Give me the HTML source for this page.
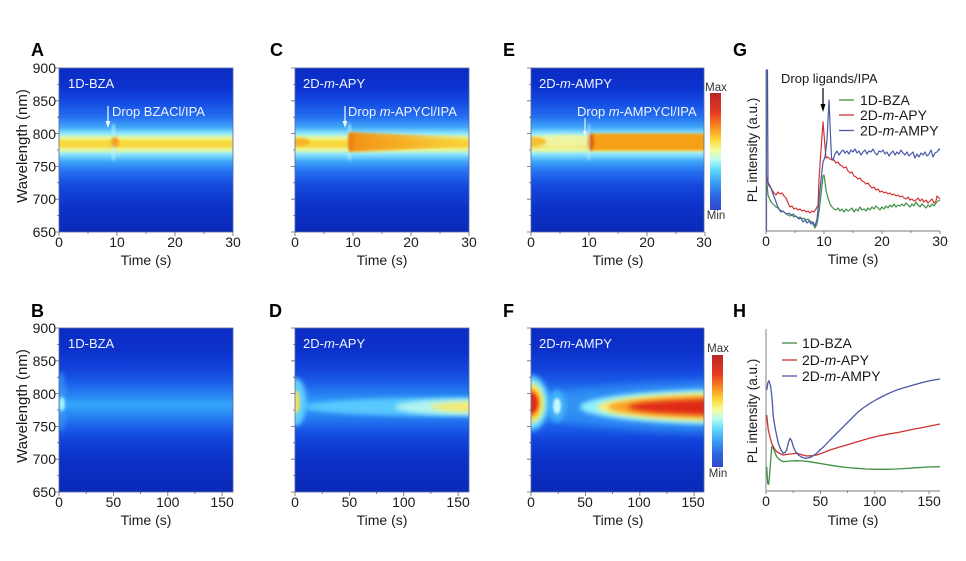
<!DOCTYPE html>
<html><head><meta charset="utf-8"><style>
html,body{margin:0;padding:0;background:#fff;}
svg{display:block;}
text{font-family:"Liberation Sans",Arial,sans-serif;}
</style></head><body>
<svg width="966" height="561" viewBox="0 0 966 561" xmlns="http://www.w3.org/2000/svg">
<defs>
<linearGradient id="gTop" x1="0" y1="0" x2="0" y2="1">
<stop offset="0" stop-color="#0b2cc4"/>
<stop offset="0.12" stop-color="#0c32cf"/>
<stop offset="0.2" stop-color="#1248e0"/>
<stop offset="0.3" stop-color="#2570f0"/>
<stop offset="0.36" stop-color="#3fa6f8"/>
<stop offset="0.40" stop-color="#8ee8ff"/>
<stop offset="0.425" stop-color="#e6f8a0"/>
<stop offset="0.45" stop-color="#f8dc3c"/>
<stop offset="0.475" stop-color="#f8d840"/>
<stop offset="0.5" stop-color="#e6f8a0"/>
<stop offset="0.525" stop-color="#8ee8ff"/>
<stop offset="0.57" stop-color="#3fa6f8"/>
<stop offset="0.63" stop-color="#2570f0"/>
<stop offset="0.72" stop-color="#1448dc"/>
<stop offset="0.85" stop-color="#0c32c8"/>
<stop offset="1" stop-color="#0a2ab8"/>
</linearGradient>
<linearGradient id="gBot" x1="0" y1="0" x2="0" y2="1">
<stop offset="0" stop-color="#0b2cc4"/>
<stop offset="0.15" stop-color="#0c32cc"/>
<stop offset="0.25" stop-color="#1244dc"/>
<stop offset="0.33" stop-color="#1a5ce8"/>
<stop offset="0.40" stop-color="#2680f2"/>
<stop offset="0.47" stop-color="#34a6f8"/>
<stop offset="0.54" stop-color="#2680f2"/>
<stop offset="0.61" stop-color="#1a5ce8"/>
<stop offset="0.68" stop-color="#1244dc"/>
<stop offset="0.8" stop-color="#0c32c8"/>
<stop offset="1" stop-color="#0a2ab8"/>
</linearGradient>
<linearGradient id="cbar" x1="0" y1="0" x2="0" y2="1">
<stop offset="0" stop-color="#b82828"/>
<stop offset="0.17" stop-color="#e83a22"/>
<stop offset="0.29" stop-color="#f88a20"/>
<stop offset="0.4" stop-color="#fcd838"/>
<stop offset="0.49" stop-color="#f4fca0"/>
<stop offset="0.57" stop-color="#b8fcf0"/>
<stop offset="0.66" stop-color="#60d8fc"/>
<stop offset="0.77" stop-color="#3a9cf4"/>
<stop offset="0.89" stop-color="#2a62e0"/>
<stop offset="1" stop-color="#3448c8"/>
</linearGradient>
<linearGradient id="orC" x1="0" y1="0" x2="1" y2="0">
<stop offset="0" stop-color="#f29014" stop-opacity="1"/>
<stop offset="0.5" stop-color="#f6a81c" stop-opacity="0.8"/>
<stop offset="1" stop-color="#f8c830" stop-opacity="0.4"/>
</linearGradient>
<filter id="b1" x="-50%" y="-50%" width="200%" height="200%"><feGaussianBlur stdDeviation="1.3"/></filter>
<filter id="b2" x="-50%" y="-50%" width="200%" height="200%"><feGaussianBlur stdDeviation="2.5"/></filter>
<filter id="b4" x="-50%" y="-50%" width="200%" height="200%"><feGaussianBlur stdDeviation="4"/></filter>
<clipPath id="cA"><rect x="59" y="68" width="174" height="164"/></clipPath>
<clipPath id="cC"><rect x="295" y="68" width="174" height="164"/></clipPath>
<clipPath id="cE"><rect x="531" y="68" width="173" height="164"/></clipPath>
<clipPath id="cB"><rect x="59" y="328" width="174" height="164"/></clipPath>
<clipPath id="cD"><rect x="295" y="328" width="174" height="164"/></clipPath>
<clipPath id="cF"><rect x="531" y="328" width="173" height="164"/></clipPath>
<path id="tkT" d="M59,68h-4M59,100.8h-4M59,133.6h-4M59,166.4h-4M59,199.2h-4M59,232h-4M59,84.4h-2M59,117.2h-2M59,150h-2M59,182.8h-2M59,215.6h-2M59,232v4M117,232v4M175,232v4M233,232v4M88,232v2M146,232v2M204,232v2" stroke="#666" stroke-width="0.8" fill="none"/>
<path id="tkB" d="M59,328h-4M59,360.8h-4M59,393.6h-4M59,426.4h-4M59,459.2h-4M59,492h-4M59,344.4h-2M59,377.2h-2M59,410h-2M59,442.8h-2M59,475.6h-2M59,492v4M113.4,492v4M167.8,492v4M222.1,492v4M86.2,492v2M140.6,492v2M194.9,492v2" stroke="#666" stroke-width="0.8" fill="none"/>
</defs>

<!-- Panel letters -->
<g font-weight="bold" font-size="18" fill="#000">
<text x="31" y="56">A</text>
<text x="270" y="56">C</text>
<text x="503" y="56">E</text>
<text x="733" y="56">G</text>
<text x="31" y="317">B</text>
<text x="269" y="317">D</text>
<text x="503" y="317">F</text>
<text x="733" y="317">H</text>
</g>

<!-- ===== Panel A ===== -->
<g clip-path="url(#cA)">
<rect x="59" y="68" width="174" height="164" fill="url(#gTop)"/>
<rect x="112" y="124" width="3" height="36" fill="#b0f4ff" opacity="0.7" filter="url(#b1)"/>
<ellipse cx="115" cy="142" rx="4" ry="5" fill="#f5a020" filter="url(#b1)"/>
</g>
<rect x="59" y="68" width="174" height="164" fill="none" stroke="#5a6a9a" stroke-width="0.8"/>
<use href="#tkT"/>
<text x="68" y="88" font-size="13" fill="#eef4ff">1D-BZA</text>
<line x1="108" y1="106" x2="108" y2="122" stroke="#eef4ff" stroke-width="1.3"/>
<polygon points="105.5,121 110.5,121 108,128" fill="#eef4ff"/>
<text x="112" y="116" font-size="13" fill="#eef4ff">Drop BZACl/IPA</text>

<!-- ===== Panel C ===== -->
<g clip-path="url(#cC)">
<rect x="295" y="68" width="174" height="164" fill="url(#gTop)"/>
<ellipse cx="298" cy="142" rx="12" ry="4" fill="#f5b428" filter="url(#b1)"/>
<rect x="348" y="124" width="3" height="36" fill="#b0f4ff" opacity="0.7" filter="url(#b1)"/>
<path d="M349,132 L469,137.5 L469,146.5 L349,152 Z" fill="url(#orC)" filter="url(#b1)"/>
<ellipse cx="351" cy="142" rx="3" ry="9" fill="#ee8410" filter="url(#b1)"/>
</g>
<rect x="295" y="68" width="174" height="164" fill="none" stroke="#5a6a9a" stroke-width="0.8"/>
<use href="#tkT" transform="translate(236,0)"/>
<text x="303" y="88" font-size="13" fill="#eef4ff">2D-<tspan font-style="italic">m</tspan>-APY</text>
<line x1="345" y1="106" x2="345" y2="122" stroke="#eef4ff" stroke-width="1.3"/>
<polygon points="342.5,121 347.5,121 345,128" fill="#eef4ff"/>
<text x="348" y="116" font-size="13" fill="#eef4ff">Drop <tspan font-style="italic">m</tspan>-APYCl/IPA</text>

<!-- ===== Panel E ===== -->
<g clip-path="url(#cE)">
<rect x="531" y="68" width="173" height="164" fill="url(#gTop)"/>
<ellipse cx="566" cy="142" rx="30" ry="7" fill="#eef8b0" opacity="0.85" filter="url(#b2)"/>
<ellipse cx="533" cy="141.5" rx="13" ry="4.5" fill="#f5c030" filter="url(#b1)"/>
<rect x="591" y="133.5" width="120" height="17" fill="#f6a014" filter="url(#b1)"/>
<ellipse cx="591" cy="142" rx="3" ry="9" fill="#e06010" filter="url(#b1)"/>
<rect x="588" y="124" width="2" height="36" fill="#c0f8ff" opacity="0.6" filter="url(#b1)"/>
</g>
<rect x="531" y="68" width="173" height="164" fill="none" stroke="#5a6a9a" stroke-width="0.8"/>
<use href="#tkT" transform="translate(472,0)"/>
<text x="539" y="88" font-size="13" fill="#eef4ff">2D-<tspan font-style="italic">m</tspan>-AMPY</text>
<line x1="585" y1="118" x2="585" y2="132" stroke="#eef4ff" stroke-width="1.2"/>
<polygon points="583,131 587,131 585,137" fill="#eef4ff"/>
<text x="577" y="116" font-size="13" fill="#eef4ff">Drop <tspan font-style="italic">m</tspan>-AMPYCl/IPA</text>
<!-- colorbar E -->
<rect x="710" y="93" width="11" height="117" fill="url(#cbar)"/>
<text x="716" y="91" font-size="11.5" fill="#333" text-anchor="middle">Max</text>
<text x="716" y="219" font-size="11.5" fill="#333" text-anchor="middle">Min</text>

<!-- ===== Panel B ===== -->
<g clip-path="url(#cB)">
<rect x="59" y="328" width="174" height="164" fill="url(#gBot)"/>
<ellipse cx="61" cy="402" rx="5" ry="30" fill="#3a9cf8" opacity="0.7" filter="url(#b2)"/>
<ellipse cx="62" cy="404" rx="3" ry="7" fill="#a0f4ff" filter="url(#b1)"/>
</g>
<rect x="59" y="328" width="174" height="164" fill="none" stroke="#5a6a9a" stroke-width="0.8"/>
<use href="#tkB"/>
<text x="68" y="348" font-size="13" fill="#eef4ff">1D-BZA</text>

<!-- ===== Panel D ===== -->
<g clip-path="url(#cD)">
<rect x="295" y="328" width="174" height="164" fill="url(#gBot)"/>
<ellipse cx="440" cy="407" rx="135" ry="9" fill="#60d0ff" opacity="0.85" filter="url(#b2)"/>
<ellipse cx="465" cy="407" rx="70" ry="8" fill="#b0f4f0" filter="url(#b2)"/>
<ellipse cx="475" cy="407" rx="45" ry="5" fill="#f4ec70" filter="url(#b2)"/>
<ellipse cx="296" cy="402" rx="10" ry="24" fill="#60d0ff" filter="url(#b2)"/>
<ellipse cx="295" cy="402" rx="5" ry="12" fill="#f0e060" filter="url(#b1)"/>
</g>
<rect x="295" y="328" width="174" height="164" fill="none" stroke="#5a6a9a" stroke-width="0.8"/>
<use href="#tkB" transform="translate(236,0)"/>
<text x="303" y="348" font-size="13" fill="#eef4ff">2D-<tspan font-style="italic">m</tspan>-APY</text>

<!-- ===== Panel F ===== -->
<g clip-path="url(#cF)">
<rect x="531" y="328" width="173" height="164" fill="url(#gBot)"/>
<ellipse cx="740" cy="407" rx="205" ry="26" fill="#3090f4" opacity="0.8" filter="url(#b4)"/>
<ellipse cx="740" cy="407" rx="160" ry="18" fill="#90f0ff" filter="url(#b2)"/>
<ellipse cx="740" cy="407" rx="143" ry="14.5" fill="#f8f080" filter="url(#b2)"/>
<ellipse cx="740" cy="407" rx="132" ry="11.5" fill="#f8a020" filter="url(#b2)"/>
<ellipse cx="740" cy="407" rx="112" ry="8" fill="#e02a18" filter="url(#b2)"/>
<ellipse cx="557" cy="406" rx="9" ry="16" fill="#40b0f8" filter="url(#b2)"/>
<ellipse cx="557" cy="406" rx="4" ry="8" fill="#c8f8ff" filter="url(#b1)"/>
<ellipse cx="531" cy="403" rx="18" ry="28" fill="#50c0fc" filter="url(#b2)"/>
<ellipse cx="531" cy="403" rx="15" ry="23" fill="#a0f4f8" filter="url(#b2)"/>
<ellipse cx="531" cy="403" rx="12" ry="19" fill="#fce040" filter="url(#b2)"/>
<ellipse cx="531" cy="403" rx="9" ry="14" fill="#f89020" filter="url(#b1)"/>
<ellipse cx="531" cy="403" rx="6.5" ry="10" fill="#e02c18" filter="url(#b1)"/>
</g>
<rect x="531" y="328" width="173" height="164" fill="none" stroke="#5a6a9a" stroke-width="0.8"/>
<use href="#tkB" transform="translate(472,0)"/>
<text x="539" y="348" font-size="13" fill="#eef4ff">2D-<tspan font-style="italic">m</tspan>-AMPY</text>
<!-- colorbar F -->
<rect x="712" y="355" width="11" height="112" fill="url(#cbar)"/>
<text x="718" y="352" font-size="11.5" fill="#333" text-anchor="middle">Max</text>
<text x="718" y="477" font-size="11.5" fill="#333" text-anchor="middle">Min</text>

<!-- heatmap axis labels -->
<g font-size="14" fill="#1a1a1a">
<g text-anchor="end">
<text x="56" y="73">900</text><text x="56" y="106">850</text><text x="56" y="139">800</text><text x="56" y="171.5">750</text><text x="56" y="204">700</text><text x="56" y="237">650</text>
<text x="56" y="333">900</text><text x="56" y="366">850</text><text x="56" y="399">800</text><text x="56" y="431.5">750</text><text x="56" y="464">700</text><text x="56" y="497">650</text>
</g>
<g text-anchor="middle">
<text x="59" y="247">0</text><text x="117" y="247">10</text><text x="175" y="247">20</text><text x="233" y="247">30</text>
<text x="295" y="247">0</text><text x="353" y="247">10</text><text x="411" y="247">20</text><text x="469" y="247">30</text>
<text x="531" y="247">0</text><text x="589" y="247">10</text><text x="647" y="247">20</text><text x="704" y="247">30</text>
<text x="146" y="265">Time (s)</text><text x="382" y="265">Time (s)</text><text x="618" y="265">Time (s)</text>
<text x="59" y="507">0</text><text x="113.4" y="507">50</text><text x="167.8" y="507">100</text><text x="222.1" y="507">150</text>
<text x="295" y="507">0</text><text x="349.4" y="507">50</text><text x="403.8" y="507">100</text><text x="458.1" y="507">150</text>
<text x="531" y="507">0</text><text x="585" y="507">50</text><text x="639" y="507">100</text><text x="693" y="507">150</text>
<text x="146" y="525">Time (s)</text><text x="382" y="525">Time (s)</text><text x="618" y="525">Time (s)</text>
<text font-size="15" transform="translate(27,146) rotate(-90)">Wavelength (nm)</text>
<text font-size="15" transform="translate(27,406) rotate(-90)">Wavelength (nm)</text>
</g>
</g>

<!-- ===== Panel G ===== -->
<g fill="none" stroke-width="1.2" stroke-linejoin="round">
<polyline stroke="#3f8f46" points="766.5,175 767,183 768,195 770,200 772,203 774,205 776,207 778,208 780,210 782,211 784,212 786,214 788,215 790,216 792,215 794,217 796,216 798,218 800,217 802,219 804,218 806,220 808,219 810,221 812,222 814,226 815,228 817,224 819,212 821,195 823,176 824,175 825,182 826,190 828,198 830,204 832,207 834,209 836,210 838,208 840,211 842,209 844,212 846,209 848,211 850,210 852,208 854,212 856,209 858,211 860,207 862,210 864,209 866,211 868,208 870,210 872,207 874,209 876,206 878,208 880,210 882,207 884,209 886,206 888,208 890,205 892,207 894,204 896,207 898,205 900,206 902,204 904,206 906,203 908,205 910,207 912,204 914,206 916,202 918,205 920,207 922,204 924,206 926,208 928,205 930,207 932,204 934,206 936,203 938,201 940,200"/>
<polyline stroke="#d03232" points="767,178 768,182 770,186 772,190 774,193 776,195 778,192 780,194 782,193 784,196 786,198 788,203 790,207 792,206 794,209 796,208 798,210 800,209 802,211 804,210 806,212 808,211 810,213 812,211 814,212 816,209 818,205 819,180 821,150 823,122 824.5,140 826,158 828,157 830,159 832,160 834,160 836,163 838,162 840,165 842,166 844,168 846,167 848,171 850,173 852,172 854,176 856,177 858,179 860,178 862,181 864,182 866,184 868,183 870,186 872,188 874,187 876,190 878,189 880,192 882,191 884,193 886,192 888,194 890,193 892,195 894,194 896,196 898,195 900,197 902,196 904,198 906,199 908,197 910,200 912,199 914,201 916,200 918,198 920,201 922,199 924,202 926,200 928,203 930,201 932,199 934,203 936,201 937,196 938,197 940,199"/>
<polyline stroke="#4a58a8" points="766.5,231 766.5,70 767.5,70 768,182 769,186 771,188 773,194 775,199 777,205 779,209 781,212 783,211 785,213 787,214 789,213 791,215 793,214 795,216 797,217 799,219 801,218 803,222 805,220 807,223 809,221 811,224 813,222 815,226 817,219 819,200 821,180 823,162 825,157 827,140 829,100 830.5,135 831.5,158 833,160 835,154 837,151 839,155 841,152 843,150 845,153 847,151 849,154 851,150 853,152 855,149 857,153 859,151 861,155 863,152 865,150 867,154 869,151 871,152 873,149 875,153 877,155 879,151 881,152 883,150 885,154 887,152 889,156 891,153 893,151 895,155 897,152 899,154 901,150 903,153 905,155 907,152 909,156 911,154 913,152 915,158 917,154 919,157 921,153 923,155 925,152 927,156 929,154 931,150 933,157 935,153 937,152 939,149 940,150"/>
</g>
<path d="M766,70V231H940M766,231v3M824,231v3M882,231v3M940,231v3M795,231v2M853,231v2M911,231v2" stroke="#777" stroke-width="0.9" fill="none"/>
<g font-size="14" fill="#1a1a1a" text-anchor="middle">
<text x="766" y="246">0</text><text x="824" y="246">10</text><text x="882" y="246">20</text><text x="940" y="246">30</text>
<text x="853" y="264">Time (s)</text>
<text font-size="13.5" transform="translate(757,150) rotate(-90)">PL intensity (a.u.)</text>
</g>
<text x="781" y="83" font-size="13" fill="#1a1a1a">Drop ligands/IPA</text>
<line x1="823" y1="88" x2="823" y2="105" stroke="#000" stroke-width="1.2"/>
<polygon points="820.5,104 825.5,104 823,112" fill="#000"/>
<g stroke-width="1.3">
<line x1="839" y1="100" x2="854" y2="100" stroke="#3f8f46"/>
<line x1="839" y1="115" x2="854" y2="115" stroke="#d03232"/>
<line x1="839" y1="130.5" x2="854" y2="130.5" stroke="#4a58a8"/>
</g>
<g font-size="14" fill="#1a1a1a">
<text x="860" y="105">1D-BZA</text>
<text x="860" y="120">2D-<tspan font-style="italic">m</tspan>-APY</text>
<text x="860" y="135.5">2D-<tspan font-style="italic">m</tspan>-AMPY</text>
</g>

<!-- ===== Panel H ===== -->
<g fill="none" stroke-width="1.3" stroke-linejoin="round">
<polyline stroke="#3f8f46" points="766.7,466.7 767.7,483.3 768.7,484.3 770,470 771.7,446.7 773.3,448.3 776.7,456.7 780,460 783.3,461.7 790,461 796.7,460.7 803,461 810,461.7 816,462.8 823.3,464 831,465.3 840,466.7 848,467.6 856.7,468.3 866,469 876.7,469.3 886,469.3 896.7,469 906,468.5 916.7,467.7 928,467 940,466.7"/>
<polyline stroke="#d03232" points="766.7,415 768.3,430 770,437 771.7,443.3 774,448 776.7,451.7 780,453.5 783.3,455 790,454 796.7,453.3 801,454.5 806.7,456 812,455.6 816.7,455 823,452.8 830,450 838,447.5 846.7,445 855,442.5 863.3,440 871,437.8 880,435.7 888,434.2 896.7,432.7 905,431 913.3,429.3 922,427.6 930,426 940,424"/>
<polyline stroke="#4a58a8" points="766.7,390 767.8,383 769,380.7 770.7,386.7 772,398 773.3,416.7 775.5,430 778.3,443.3 781,450 783.3,453.3 785,452.5 786.7,450 788.3,443 790,438.3 791.7,441 793.3,446.7 795.5,451.5 798.3,455 801.5,457 805,458.3 808,458 811.7,456.7 816,453.8 820,450 825,445.5 830,440 836,434 843.3,426.7 850,420 856.7,413.3 863,408 870,403.3 876.5,399.5 883.3,396 890,392.8 896.7,390 903,388 910,386 917,384 923.3,382.3 931,380.5 940,379"/>
</g>
<path d="M766,329V491H940M766,491v3M820.4,491v3M874.8,491v3M929.1,491v3M793.2,491v2M847.6,491v2M902,491v2" stroke="#777" stroke-width="0.9" fill="none"/>
<g font-size="14" fill="#1a1a1a" text-anchor="middle">
<text x="766" y="506">0</text><text x="820.4" y="506">50</text><text x="874.8" y="506">100</text><text x="929.1" y="506">150</text>
<text x="853" y="525">Time (s)</text>
<text font-size="13.5" transform="translate(757,411) rotate(-90)">PL intensity (a.u.)</text>
</g>
<g stroke-width="1.3">
<line x1="782" y1="343" x2="797" y2="343" stroke="#3f8f46"/>
<line x1="782" y1="360" x2="797" y2="360" stroke="#d03232"/>
<line x1="782" y1="376" x2="797" y2="376" stroke="#4a58a8"/>
</g>
<g font-size="14" fill="#1a1a1a">
<text x="802" y="348">1D-BZA</text>
<text x="802" y="365">2D-<tspan font-style="italic">m</tspan>-APY</text>
<text x="802" y="381">2D-<tspan font-style="italic">m</tspan>-AMPY</text>
</g>
</svg>
</body></html>
